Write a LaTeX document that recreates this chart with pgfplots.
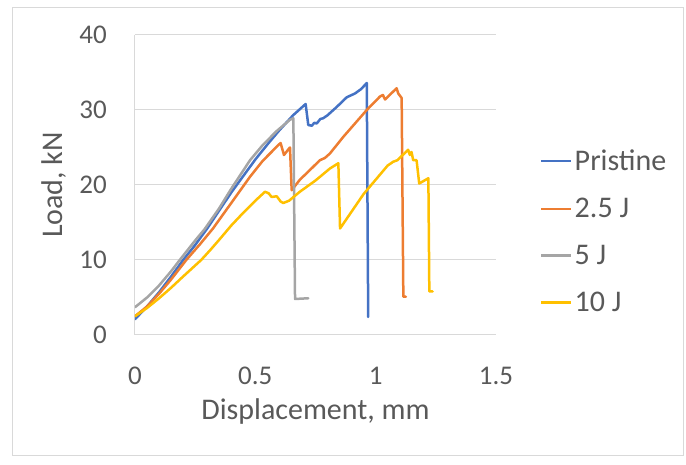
\documentclass[border=0pt]{standalone}
\usepackage{fontspec}
\setmainfont{Carlito}
\usepackage{pgfplots}
\pgfplotsset{compat=1.18}
\definecolor{cBlue}{HTML}{4472C4}
\definecolor{cOrange}{HTML}{ED7D31}
\definecolor{cGray}{HTML}{A5A5A5}
\definecolor{cYellow}{HTML}{FFC000}
\definecolor{cText}{HTML}{595959}
\definecolor{cGrid}{HTML}{D9D9D9}
\begin{document}
\begin{tikzpicture}
\useasboundingbox (-135pt,-130pt) rectangle (551pt,335pt);
\draw[cGrid, line width=1pt] (-122.5pt,-121pt) rectangle (548pt,327pt);
\begin{axis}[
  at={(0pt,0pt)}, anchor=south west,
  scale only axis, width=361pt, height=300pt,
  xmin=0, xmax=1.5, ymin=0, ymax=40,
  xtick={0,0.5,1,1.5}, ytick={0,10,20,30,40},
  axis x line=bottom, axis y line=left,
  axis line style={-, draw=cGrid, line width=1pt},
  major tick length=0pt,
  ymajorgrids, grid style={cGrid, line width=1pt},
  tick label style={font=\fontsize{27}{30}\selectfont, text=cText},
  /pgf/number format/assume math mode=true,
  yticklabel style={anchor=east, inner sep=0pt, xshift=-28pt},
  xticklabel style={anchor=north, inner sep=0pt, yshift=-32pt},
  xlabel={Displacement, mm}, ylabel={Load, kN},
  label style={font=\fontsize{30}{34}\selectfont, text=cText},
  xlabel style={at={(axis description cs:0.5,-0.2833)}, anchor=base},
  ylabel style={at={(axis description cs:-0.2022,0.5)}, anchor=base},
  legend style={draw=none, fill=none, at={(axis description cs:1.122,0.345)}, anchor=west,
    font=\fontsize{30}{34}\selectfont, text=cText, row sep=22pt, inner sep=0pt,
    nodes={inner sep=2pt}},
  legend cell align=left,
  legend image code/.code={\draw[#1, line width=2.5pt, line cap=butt] (0pt,0pt) -- (30pt,0pt);},
  every axis plot/.append style={line width=2.5pt, line join=round, line cap=round},
]
\addplot[cBlue] coordinates {
(0,2.1) (0.05,3.8) (0.1,5.7) (0.15,7.8) (0.2,10.0) (0.25,12.0) (0.3,14.2) (0.35,16.6)
(0.4,19.0) (0.45,21.2) (0.5,23.4) (0.55,25.4) (0.6,27.3) (0.657,29.3) (0.709,30.8)
(0.72,28.0) (0.735,27.9) (0.745,28.3) (0.755,28.2) (0.77,28.8) (0.782,28.9) (0.8,29.3)
(0.838,30.4) (0.88,31.7) (0.914,32.2) (0.94,32.8) (0.963,33.6) (0.969,2.4)
};
\addlegendentry{Pristine}
\addplot[cOrange] coordinates {
(0,2.5) (0.05,3.8) (0.1,5.5) (0.15,7.4) (0.213,10.0) (0.27,12.1) (0.324,14.2) (0.4,17.6)
(0.478,21.1) (0.53,23.2) (0.595,25.3) (0.605,25.6) (0.619,24.0) (0.641,24.9) (0.644,25.0)
(0.651,19.3) (0.685,20.7) (0.727,22.0) (0.768,23.3) (0.789,23.6) (0.81,24.2) (0.865,26.4)
(0.963,30.0) (1.018,31.8) (1.03,32.0) (1.039,31.4) (1.087,32.9) (1.094,32.2) (1.108,31.6)
(1.115,5.1) (1.126,5.1)
};
\addlegendentry{2.5 J}
\addplot[cGray] coordinates {
(0,3.7) (0.05,5.0) (0.1,6.6) (0.15,8.5) (0.186,10.0) (0.25,12.6) (0.289,14.1) (0.35,16.9)
(0.4,19.5) (0.478,23.3) (0.53,25.3) (0.589,27.2) (0.644,28.7) (0.658,28.9) (0.665,4.8) (0.72,4.9)
};
\addlegendentry{5 J}
\addplot[cYellow] coordinates {
(0,2.5) (0.05,3.6) (0.1,4.9) (0.15,6.3) (0.2,7.8) (0.275,10.0) (0.312,11.3) (0.35,12.7)
(0.4,14.6) (0.45,16.3) (0.5,17.9) (0.54,19.1) (0.555,18.9) (0.568,18.4) (0.589,18.5)
(0.605,17.8) (0.616,17.6) (0.64,17.9) (0.685,19.1) (0.75,20.6) (0.81,22.2) (0.845,22.9)
(0.852,14.2) (0.95,18.8) (1.05,22.6) (1.073,23.1) (1.09,23.3) (1.135,24.7) (1.142,24.0)
(1.149,24.4) (1.156,23.3) (1.17,23.3) (1.181,20.2) (1.219,20.9) (1.223,5.8) (1.237,5.8)
};
\addlegendentry{10 J}
\end{axis}
\end{tikzpicture}
\end{document}
